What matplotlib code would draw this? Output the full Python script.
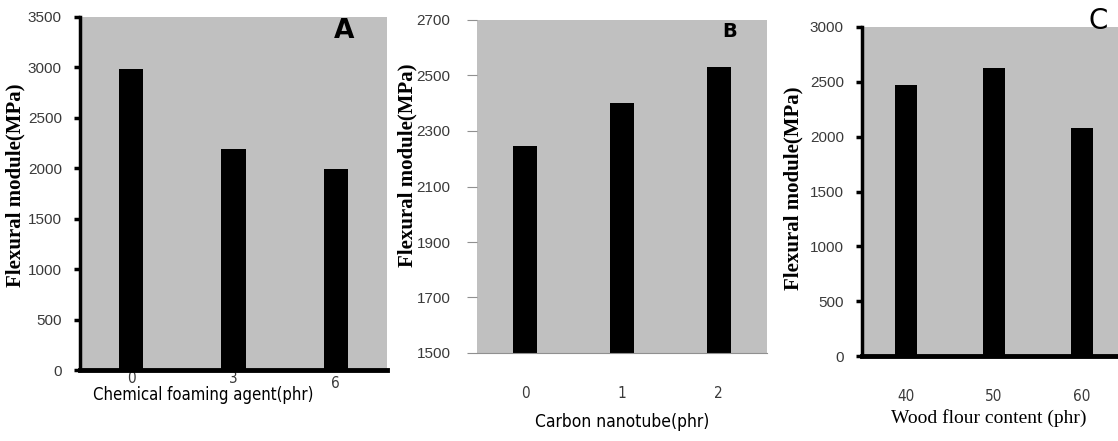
import matplotlib
matplotlib.use('Agg')
import matplotlib.pyplot as plt
import numpy as np

# --- data ---
foam_cats = ['0', '3', '6']
foam_vals = [2980, 2190, 1990]

cnt_cats = ['0', '1', '2']
cnt_vals = [2245, 2400, 2530]

wood_cats = ['40', '50', '60']
wood_vals = [2475, 2625, 2080]

GRAY = '#c0c0c0'
NARROW = ['DejaVu Sans']
TICKF = ['Liberation Sans', 'DejaVu Sans']
SERIF = ['Liberation Serif', 'DejaVu Serif']
W, H = 1118, 441

def px_axes(fig, left, right, top, bottom):
    return fig.add_axes([left / W, (H - bottom) / H, (right - left) / W, (bottom - top) / H])

def style(ax, thick_left):
    ax.set_facecolor(GRAY)
    ax.spines['top'].set_visible(False)
    ax.spines['right'].set_visible(False)
    if thick_left:
        ax.spines['left'].set_linewidth(2.5)
        ax.spines['bottom'].set_linewidth(3.5)
        ax.tick_params(axis='y', length=4, width=2.5, color='black', direction='out', pad=9)
    else:
        ax.spines['left'].set_visible(False)
        ax.spines['bottom'].set_color('#909090')
        ax.spines['bottom'].set_linewidth(0.8)
        ax.tick_params(axis='y', length=7, width=0.8, color='#909090', direction='out', pad=12)
    ax.tick_params(axis='x', length=0)
    for lab in ax.get_yticklabels():
        lab.set_fontfamily(TICKF)
        lab.set_fontsize(11)
        lab.set_color('#3a3a3a')
    for lab in ax.get_xticklabels():
        lab.set_fontfamily(NARROW)
        lab.set_fontstretch('condensed')
        lab.set_fontsize(11)
        lab.set_color('#3a3a3a')

fig = plt.figure(figsize=(W / 100, H / 100), dpi=100)

# --- A ---
axA = px_axes(fig, 80, 387, 17, 370)
x = np.arange(len(foam_cats))
axA.bar(x, foam_vals, width=0.24, color='black')
axA.set_xlim(-0.5, 2.5)
axA.set_ylim(0, 3500)
axA.set_yticks(np.arange(0, 3501, 500))
axA.set_xticks(x)
axA.set_xticklabels(foam_cats)
style(axA, True)
axA.tick_params(axis='x', pad=1)
axA.get_xticklabels()[2].set_y(-0.012)
axA.set_ylabel('Flexural module(MPa)', family=SERIF, fontweight='bold', fontsize=15)
axA.yaxis.set_label_coords(-0.178, 0.524)
axA.set_xlabel('Chemical foaming agent(phr)', family=NARROW, fontstretch='condensed', fontsize=12)
axA.xaxis.set_label_coords(0.4, -0.045)
axA.text(0.86, 0.997, 'A', transform=axA.transAxes, fontsize=19, fontweight='bold',
         ha='center', va='top')

# --- B ---
axB = px_axes(fig, 477, 767, 20, 353)
x = np.arange(len(cnt_cats))
axB.bar(x, np.array(cnt_vals) - 1500, bottom=1500, width=0.25, color='black')
axB.set_xlim(-0.5, 2.5)
axB.set_ylim(1500, 2700)
axB.set_yticks(np.arange(1500, 2701, 200))
axB.set_xticks(x)
axB.set_xticklabels(cnt_cats)
style(axB, False)
axB.tick_params(axis='x', pad=24)
axB.set_ylabel('Flexural module(MPa)', family=SERIF, fontweight='bold', fontsize=15)
axB.yaxis.set_label_coords(-0.205, 0.565)
axB.set_xlabel('Carbon nanotube(phr)', family=NARROW, fontstretch='condensed', fontsize=12.5)
axB.xaxis.set_label_coords(0.5, -0.18)
axB.text(0.87, 0.995, 'B', transform=axB.transAxes, fontsize=14, fontweight='bold',
         ha='center', va='top')

# --- C ---
axC = px_axes(fig, 862, 1126, 27, 356)
x = np.arange(len(wood_cats))
axC.bar(x, wood_vals, width=0.24, color='black')
axC.set_xlim(-0.5, 2.5)
axC.set_ylim(0, 3000)
axC.set_yticks(np.arange(0, 3001, 500))
axC.set_xticks(x)
axC.set_xticklabels(wood_cats)
style(axC, True)
axC.tick_params(axis='x', pad=24)
axC.set_ylabel('Flexural module(MPa)', family=SERIF, fontweight='bold', fontsize=15)
axC.yaxis.set_label_coords(-0.22, 0.51)
axC.set_xlabel('Wood flour content (phr)', family=SERIF, fontsize=14)
axC.xaxis.set_label_coords(0.48, -0.162)
axC.text(0.894, 1.06, 'C', transform=axC.transAxes, fontsize=20, ha='center', va='top')

fig.savefig('out.png', dpi=100)
